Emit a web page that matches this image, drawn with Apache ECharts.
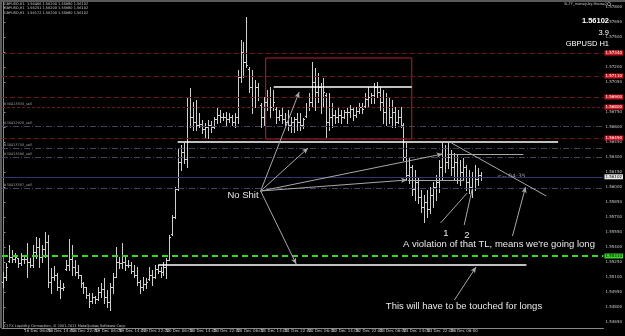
<!DOCTYPE html>
<html>
<head>
<meta charset="utf-8">
<script src="https://cdn.jsdelivr.net/npm/echarts@6/dist/echarts.min.js"></script>
<style>
html,body{margin:0;padding:0;background:#000}
#chart{width:625px;height:336px}
</style>
</head>
<body>
<div id="chart"></div>
<script>
// GBPUSD H1 bars, first bar = 15 Dec 23:00
var open = [
1.5505,1.5510,1.5526,1.5530,1.5528,1.5529,1.5524,1.5528,1.5528,1.5525,
1.5522,1.5535,1.5540,1.5530,1.5538,1.5545,1.5505,1.5510,1.5512,1.5500,
1.5499,1.5518,1.5522,1.5528,1.5520,1.5515,1.5512,1.5504,1.5500,1.5492,
1.5486,1.5490,1.5488,1.5495,1.5498,1.5490,1.5485,1.5500,1.5510,1.5525,
1.5524,1.5525,1.5522,1.5522,1.5516,1.5512,1.5505,1.5500,1.5503,1.5508,
1.5512,1.5510,1.5518,1.5516,1.5515,1.5520,1.5527,1.5553,1.5570,1.5598,
1.5625,1.5635,1.5628,1.5680,1.5670,1.5665,1.5662,1.5663,1.5658,1.5660,
1.5662,1.5660,1.5668,1.5672,1.5670,1.5670,1.5668,1.5670,1.5665,1.5670,
1.5710,1.5735,1.5725,1.5718,1.5700,1.5690,1.5700,1.5682,1.5670,1.5685,
1.5690,1.5680,1.5678,1.5670,1.5672,1.5668,1.5665,1.5662,1.5665,1.5668,
1.5665,1.5662,1.5671,1.5680,1.5685,1.5705,1.5695,1.5700,1.5690,1.5692,
1.5665,1.5670,1.5672,1.5670,1.5672,1.5670,1.5675,1.5675,1.5678,1.5672,
1.5676,1.5680,1.5681,1.5688,1.5690,1.5692,1.5700,1.5695,1.5685,1.5675,
1.5680,1.5670,1.5675,1.5665,1.5670,1.5662,1.5630,1.5612,1.5620,1.5598,
1.5605,1.5590,1.5580,1.5585,1.5578,1.5592,1.5600,1.5605,1.5620,1.5630,
1.5625,1.5630,1.5620,1.5625,1.5610,1.5615,1.5620,1.5605,1.5600,1.5610,
1.5608,1.5612
];
var high = [
1.5515,1.5524,1.5542,1.5537,1.5534,1.5529,1.5534,1.5531,1.5544,1.5529,
1.5542,1.5550,1.5549,1.5542,1.5555,1.5552,1.5519,1.5521,1.5514,1.5507,
1.5504,1.5527,1.5548,1.5542,1.5527,1.5522,1.5512,1.5505,1.5500,1.5494,
1.5494,1.5491,1.5500,1.5504,1.5509,1.5497,1.5504,1.5514,1.5540,1.5530,
1.5544,1.5530,1.5527,1.5525,1.5522,1.5520,1.5507,1.5510,1.5509,1.5520,
1.5517,1.5522,1.5522,1.5520,1.5525,1.5529,1.5552,1.5572,1.5600,1.5639,
1.5642,1.5644,1.5690,1.5699,1.5685,1.5687,1.5674,1.5667,1.5664,1.5667,
1.5666,1.5670,1.5680,1.5677,1.5674,1.5675,1.5674,1.5672,1.5674,1.5717,
1.5747,1.5745,1.5770,1.5720,1.5717,1.5707,1.5704,1.5684,1.5690,1.5697,
1.5700,1.5697,1.5680,1.5677,1.5680,1.5674,1.5677,1.5670,1.5670,1.5674,
1.5674,1.5669,1.5684,1.5694,1.5725,1.5719,1.5714,1.5704,1.5709,1.5694,
1.5694,1.5684,1.5677,1.5680,1.5677,1.5677,1.5680,1.5682,1.5680,1.5680,
1.5684,1.5684,1.5694,1.5700,1.5694,1.5704,1.5705,1.5700,1.5697,1.5694,
1.5690,1.5687,1.5680,1.5677,1.5680,1.5664,1.5644,1.5630,1.5622,1.5617,
1.5610,1.5597,1.5592,1.5597,1.5600,1.5605,1.5612,1.5627,1.5644,1.5642,
1.5644,1.5637,1.5634,1.5632,1.5627,1.5629,1.5622,1.5617,1.5615,1.5622,
1.5619,1.5615
];
var low = [
1.5500,1.5507,1.5525,1.5525,1.5525,1.5520,1.5522,1.5524,1.5510,1.5520,
1.5520,1.5529,1.5520,1.5525,1.5530,1.5500,1.5494,1.5507,1.5497,1.5489,
1.5497,1.5517,1.5517,1.5512,1.5512,1.5509,1.5500,1.5494,1.5489,1.5480,
1.5484,1.5484,1.5487,1.5490,1.5484,1.5480,1.5477,1.5494,1.5510,1.5519,
1.5519,1.5517,1.5520,1.5514,1.5510,1.5502,1.5494,1.5497,1.5499,1.5507,
1.5502,1.5509,1.5514,1.5510,1.5512,1.5509,1.5527,1.5552,1.5569,1.5597,
1.5617,1.5624,1.5620,1.5660,1.5657,1.5657,1.5660,1.5654,1.5650,1.5649,
1.5655,1.5659,1.5664,1.5665,1.5667,1.5662,1.5665,1.5662,1.5660,1.5664,
1.5705,1.5710,1.5720,1.5695,1.5674,1.5680,1.5687,1.5660,1.5662,1.5677,
1.5670,1.5677,1.5664,1.5667,1.5664,1.5660,1.5657,1.5655,1.5655,1.5657,
1.5657,1.5659,1.5670,1.5677,1.5680,1.5677,1.5685,1.5674,1.5680,1.5649,
1.5657,1.5660,1.5664,1.5665,1.5664,1.5669,1.5664,1.5670,1.5667,1.5670,
1.5674,1.5674,1.5680,1.5680,1.5684,1.5684,1.5690,1.5677,1.5664,1.5662,
1.5664,1.5660,1.5660,1.5664,1.5660,1.5627,1.5607,1.5604,1.5592,1.5587,
1.5584,1.5575,1.5565,1.5570,1.5574,1.5580,1.5587,1.5595,1.5607,1.5615,
1.5619,1.5612,1.5607,1.5604,1.5602,1.5607,1.5597,1.5594,1.5590,1.5597,
1.5602,1.5607
];
var close = [
1.5510,1.5520,1.5530,1.5528,1.5530,1.5524,1.5528,1.5528,1.5525,1.5522,
1.5535,1.5540,1.5530,1.5538,1.5545,1.5505,1.5510,1.5512,1.5500,1.5499,
1.5500,1.5522,1.5528,1.5520,1.5515,1.5512,1.5504,1.5500,1.5492,1.5486,
1.5490,1.5488,1.5495,1.5498,1.5490,1.5485,1.5500,1.5510,1.5525,1.5524,
1.5525,1.5522,1.5522,1.5516,1.5512,1.5505,1.5500,1.5503,1.5505,1.5512,
1.5510,1.5518,1.5516,1.5515,1.5520,1.5527,1.5550,1.5570,1.5598,1.5625,
1.5635,1.5628,1.5680,1.5670,1.5665,1.5662,1.5663,1.5658,1.5660,1.5662,
1.5660,1.5668,1.5672,1.5670,1.5670,1.5668,1.5670,1.5665,1.5670,1.5710,
1.5735,1.5725,1.5722,1.5700,1.5690,1.5700,1.5690,1.5670,1.5685,1.5690,
1.5680,1.5685,1.5670,1.5672,1.5668,1.5665,1.5662,1.5665,1.5668,1.5665,
1.5662,1.5668,1.5680,1.5685,1.5705,1.5695,1.5700,1.5690,1.5695,1.5665,
1.5670,1.5672,1.5670,1.5672,1.5670,1.5675,1.5675,1.5678,1.5672,1.5676,
1.5680,1.5678,1.5688,1.5690,1.5692,1.5700,1.5695,1.5685,1.5675,1.5680,
1.5670,1.5675,1.5665,1.5670,1.5662,1.5630,1.5612,1.5620,1.5598,1.5605,
1.5590,1.5580,1.5585,1.5578,1.5592,1.5600,1.5605,1.5620,1.5630,1.5625,
1.5630,1.5620,1.5625,1.5610,1.5615,1.5620,1.5605,1.5600,1.5610,1.5608,
1.5612,1.5610
];

var slotCount = 203; // bars plus empty shift space on the right
var timeTicks = [0, 7, 15, 23, 31, 39, 47, 55, 63, 71, 79, 87, 95, 103, 111, 119, 127, 135, 143, 151, 159];
var timeLabels = ['15 Dec 2011', '16 Dec 06:00', '16 Dec 14:00', '16 Dec 22:00', '19 Dec 06:00', '19 Dec 14:00',
  '19 Dec 22:00', '20 Dec 06:00', '20 Dec 14:00', '20 Dec 22:00', '21 Dec 06:00', '21 Dec 14:00', '21 Dec 22:00',
  '22 Dec 06:00', '22 Dec 14:00', '22 Dec 22:00', '23 Dec 06:00', '23 Dec 14:00', '23 Dec 22:00', '26 Dec 06:00', '26 Dec 14:00'];
var priceTicks = [1.5465, 1.5480, 1.5495, 1.5510, 1.5525, 1.5540, 1.5555, 1.5570, 1.5585, 1.5600, 1.5615,
  1.5630, 1.5645, 1.5660, 1.5675, 1.5690, 1.5705, 1.5720, 1.5735, 1.5750, 1.5765, 1.5780];

// horizontal levels
var redLevels = [1.5734, 1.5711, 1.5690, 1.5649];
var orderLevels = [1.5680, 1.5661, 1.5639, 1.5630, 1.5599];
var orderNames = ['#30413830_sell', '#30412920_sell', '#30413700_sell', '#30413690_sell', '#30413587_sell'];
var bidPrice = 1.56102;
var greenLevel = 1.5531;

// drawn objects [x1, y1, x2, y2] in bar index / price
var whiteLines = [[58.8, 1.5645, 187.2, 1.5645], [91.2, 1.5700, 137.8, 1.5700], [52.2, 1.5522, 176.5, 1.5522]];
var grayLines = [[149.8, 1.5633, 175.5, 1.5633], [136.5, 1.5607, 155.5, 1.5607], [151.2, 1.5644, 183.2, 1.5591],
  [147.5, 1.5564, 156.5, 1.5594], [155.5, 1.5562, 158.2, 1.5598]];
var arrows = [[86.8, 1.5596, 99.8, 1.5695], [86.8, 1.5596, 102.8, 1.5639], [86.8, 1.5596, 148.2, 1.5633],
  [86.8, 1.5596, 136.2, 1.5607], [86.8, 1.5596, 98.8, 1.5523], [171.8, 1.5551, 176.2, 1.5600], [152.2, 1.5487, 159.5, 1.5520]];
var boxRange = [88.5, 1.5729, 137.8, 1.5648];

var bars = [];
for (var i = 0; i < close.length; i++) {
  bars.push([i, open[i], high[i], low[i], close[i]]);
}

function renderBar(params, api) {
  var i = api.value(0);
  var h = api.coord([i, api.value(2)]);
  var l = api.coord([i, api.value(3)]);
  var o = api.coord([i, api.value(1)]);
  var c = api.coord([i, api.value(4)]);
  var x = Math.round(h[0]) + 0.5;
  var st = { stroke: '#cfcfcf', lineWidth: 1 };
  return {
    type: 'group',
    children: [
      { type: 'line', shape: { x1: x, y1: Math.round(h[1]), x2: x, y2: Math.round(l[1]) + 1 }, style: st },
      { type: 'line', shape: { x1: x - 1.5, y1: Math.round(o[1]) + 0.5, x2: x, y2: Math.round(o[1]) + 0.5 }, style: st },
      { type: 'line', shape: { x1: x, y1: Math.round(c[1]) + 0.5, x2: x + 1.5, y2: Math.round(c[1]) + 0.5 }, style: st }
    ]
  };
}

function seg(list, color, width, arrow) {
  return list.map(function (s) {
    return [
      { coord: [s[0], s[1]], symbol: 'none', lineStyle: { color: color, width: width, type: 'solid' } },
      { coord: [s[2], s[3]], symbol: arrow ? 'arrow' : 'none', symbolSize: [4, 6] }
    ];
  });
}

function level(v, lineStyle, label) {
  return [
    { coord: [-0.5, v], symbol: 'none', lineStyle: lineStyle, label: label || { show: false } },
    { coord: [slotCount - 0.5, v], symbol: 'none' }
  ];
}

function tag(v, bg, fg) {
  return {
    show: true, position: 'end', distance: 1,
    formatter: v.toFixed(5),
    fontSize: 4, color: fg, backgroundColor: bg, padding: [1, 1, 0, 1],
    fontFamily: 'DejaVu Sans'
  };
}

var levelLines = [];
redLevels.forEach(function (v) {
  levelLines.push(level(v, { color: '#641a20', type: [5, 3], width: 1 }, tag(v, '#c8141e', '#fff')));
});
orderLevels.forEach(function (v, k) {
  var red = k === 0;
  levelLines.push(level(v,
    { color: red ? '#641a20' : '#4e3f58', type: red ? [3, 2] : [6, 2, 1, 2], width: 1 },
    red ? tag(v, '#c8141e', '#fff') : null));
});
levelLines.push(level(bidPrice, { color: '#2e3770', type: 'solid', width: 1 }, tag(bidPrice, '#e8e8e8', '#000')));
levelLines.push(level(greenLevel, { color: '#3ad32a', type: [6, 4], width: 2 }, tag(greenLevel, '#3ad32a', '#000')));

// order names written just above their dash-dot lines
var orderText = orderLevels.map(function (v, k) {
  return { coord: [0, v], name: orderNames[k] };
});

var chart = echarts.init(document.getElementById('chart'));
chart.setOption({
  backgroundColor: '#000',
  animation: false,
  grid: { left: 2, right: 14, top: 2, bottom: 8 },
  xAxis: {
    type: 'value', min: -0.5, max: slotCount - 0.5,
    axisLine: { show: true, lineStyle: { color: '#8a8a8a' } },
    axisTick: { show: true, customValues: timeTicks, length: 2, lineStyle: { color: '#8a8a8a' } },
    axisLabel: {
      show: true, customValues: timeTicks, align: 'left', margin: 1,
      fontSize: 4, color: '#c8c8c8', fontFamily: 'DejaVu Sans',
      formatter: function (v) { return timeLabels[timeTicks.indexOf(v)]; }
    },
    splitLine: { show: false }
  },
  yAxis: {
    type: 'value', position: 'right', min: 1.5459, max: 1.5785,
    axisLine: { show: true, lineStyle: { color: '#8a8a8a' } },
    axisTick: { show: true, customValues: priceTicks, length: 2, lineStyle: { color: '#8a8a8a' } },
    axisLabel: {
      show: true, customValues: priceTicks, margin: 2, fontSize: 4, color: '#c8c8c8', fontFamily: 'DejaVu Sans',
      formatter: function (v) { return v.toFixed(5); }
    },
    splitLine: { show: false }
  },
  series: [
    {
      type: 'line', data: [], silent: true, z: 1,
      markLine: { silent: true, symbol: 'none', animation: false, data: levelLines },
      markPoint: {
        silent: true, symbol: 'circle', symbolSize: 0, animation: false,
        label: {
          show: true, position: 'right', distance: 0, offset: [0, -3], fontSize: 3.5, color: '#9a9a9a',
          fontFamily: 'DejaVu Sans', formatter: '{b}'
        },
        data: orderText
      }
    },
    {
      type: 'custom', renderItem: renderBar, data: bars, silent: true,
      encode: { x: 0, y: [1, 2, 3, 4] }, z: 3
    },
    {
      type: 'line', data: [], silent: true, z: 4,
      markArea: {
        silent: true,
        itemStyle: { color: 'rgba(0,0,0,0)', borderColor: '#b3202c', borderWidth: 1 },
        data: [[{ coord: [boxRange[0], boxRange[1]] }, { coord: [boxRange[2], boxRange[3]] }]]
      },
      markLine: {
        silent: true, animation: false, label: { show: false },
        data: seg(whiteLines, '#ffffff', 1.5, false)
          .concat(seg(grayLines, '#a8a8a8', 1, false))
          .concat(seg(arrows, '#a8a8a8', 1, true))
      }
    }
  ],
  graphic: [
    { type: 'rect', shape: { x: 0, y: 0, width: 625, height: 2 }, style: { fill: '#5a5a5a' } },
    { type: 'rect', shape: { x: 0, y: 0, width: 2, height: 328 }, style: { fill: '#5a5a5a' } },
    { type: 'text', x: 4, y: 2, style: { text: 'GBPUSD,H1  1.56466 1.56200 1.55980 1.56102', fill: '#c8c8c8', font: '3.5px "DejaVu Sans"' } },
    { type: 'text', x: 4, y: 6.5, style: { text: 'GBPUSD,H1  1.56251 1.56200 1.55980 1.56102', fill: '#c8c8c8', font: '3.5px "DejaVu Sans"' } },
    { type: 'text', x: 4, y: 11, style: { text: 'GBPUSD,H1  1.56172 1.56200 1.55980 1.56102', fill: '#c8c8c8', font: '3.5px "DejaVu Sans"' } },
    { type: 'text', x: 607, y: 2, style: { text: '3L-TF_money-by-Mouse2', align: 'right', fill: '#c8c8c8', font: '3.5px "DejaVu Sans"' } },
    { type: 'circle', shape: { cx: 609, cy: 4, r: 1.6 }, style: { fill: 'none', stroke: '#c8c8c8', lineWidth: 0.6 } },
    { type: 'text', x: 609, y: 17, style: { text: '1.56102', align: 'right', fill: '#ffffff', font: 'bold 7.5px "Liberation Sans"' } },
    { type: 'text', x: 609, y: 29, style: { text: '3.9', align: 'right', fill: '#ffffff', font: '7.5px "Liberation Sans"' } },
    { type: 'text', x: 609, y: 40, style: { text: 'GBPUSD H1', align: 'right', fill: '#ffffff', font: '7.5px "Liberation Sans"' } },
    { type: 'text', x: 243, y: 195, style: { text: 'No Shit', align: 'center', verticalAlign: 'middle', fill: '#e8e8e8', font: '9.5px "Liberation Sans"' } },
    { type: 'text', x: 446, y: 233, style: { text: '1', align: 'center', verticalAlign: 'middle', fill: '#e8e8e8', font: '9.5px "Liberation Sans"' } },
    { type: 'text', x: 467, y: 235, style: { text: '2', align: 'center', verticalAlign: 'middle', fill: '#e8e8e8', font: '9.5px "Liberation Sans"' } },
    { type: 'text', x: 403, y: 244, style: { text: "A violation of that TL, means we're going long", verticalAlign: 'middle', fill: '#e8e8e8', font: '9.5px "Liberation Sans"' } },
    { type: 'text', x: 464, y: 306, style: { text: 'This will have to be touched for longs', align: 'center', verticalAlign: 'middle', fill: '#e8e8e8', font: '9.5px "Liberation Sans"' } },
    { type: 'text', x: 497, y: 176, style: { text: '<-- 04:35', verticalAlign: 'middle', fill: '#9a9a9a', font: '6px "DejaVu Sans"' } },
    { type: 'text', x: 3, y: 324, style: { text: '(C) FX Liquidity Connection, \u00a9 2001-2011 MetaQuotes Software Corp.', fill: '#c8c8c8', font: '3.5px "DejaVu Sans"' } }
  ]
});
</script>
</body>
</html>
